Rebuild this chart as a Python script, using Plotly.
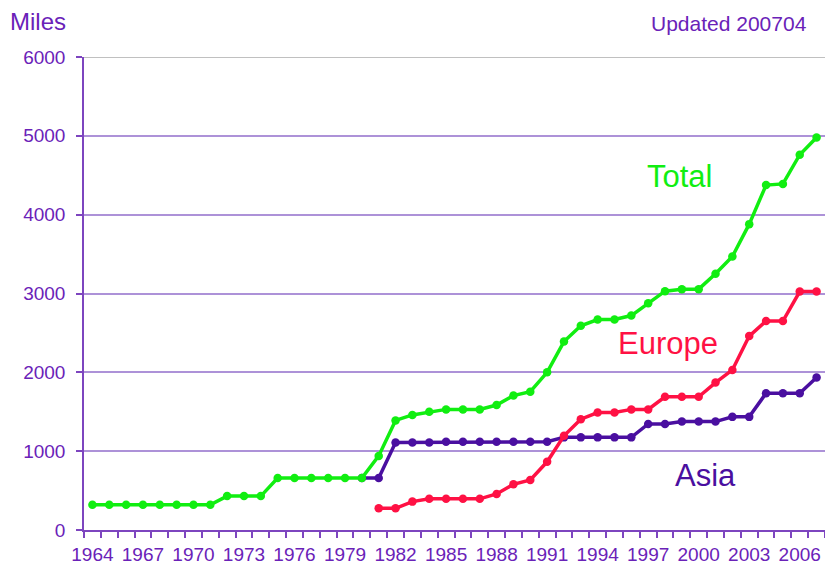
import plotly.graph_objects as go

years = list(range(1964, 2008))
total = [320, 320, 320, 320, 320, 320, 320, 320,
         430, 430, 430,
         660, 660, 660, 660, 660, 660,
         940, 1390, 1460, 1500, 1530, 1530, 1530, 1585, 1705, 1755,
         2000, 2390, 2590, 2670, 2670, 2720, 2875, 3030, 3055, 3055,
         3250, 3470, 3880, 4375, 4390, 4760, 4980]
asia_years = list(range(1980, 2008))
asia = [660, 660, 1110, 1110, 1110,
        1120, 1120, 1120, 1120, 1120, 1120, 1120,
        1175, 1175, 1175, 1175, 1175,
        1345, 1345, 1375, 1375, 1375, 1435, 1435, 1735, 1735, 1735, 1935]
europe_years = list(range(1981, 2008))
europe = [275, 275, 360, 395, 395, 395, 395, 457, 580, 635, 865, 1195,
          1405, 1490, 1490, 1530, 1530, 1690, 1690, 1690, 1870, 2030,
          2460, 2650, 2650, 3025, 3025]
tick_years = list(range(1964, 2007, 3))
y_ticks = [0, 1000, 2000, 3000, 4000, 5000, 6000]

GREEN = "#11ee11"
RED = "#ff1144"
PURPLE = "#4a0fa0"
TXT = "#6a22b8"
AXIS = "#7d45bf"
GRID = "#ad92d8"
FONT = "Liberation Sans, Arial, sans-serif"

fig = go.Figure()
for xs, ys, col in [(asia_years, asia, PURPLE), (europe_years, europe, RED), (years, total, GREEN)]:
    fig.add_trace(go.Scatter(x=xs, y=ys, mode="lines+markers",
                             line=dict(color=col, width=3.5),
                             marker=dict(color=col, size=8.5),
                             showlegend=False, hoverinfo="skip", cliponaxis=False))

fig.update_layout(
    width=825, height=566,
    margin=dict(l=84, r=0, t=57, b=36, autoexpand=False),
    plot_bgcolor="white", paper_bgcolor="white",
    font=dict(family=FONT, color=TXT, size=19),
    xaxis=dict(range=[1963.5, 2007.5], tickvals=tick_years,
               ticktext=[str(y) for y in tick_years],
               ticks="", showgrid=False, zeroline=False, automargin=False,
               showline=True, linecolor=AXIS, linewidth=1.5,
               tickfont=dict(size=19, color=TXT), ticklabelstandoff=6,
               minor=dict(tick0=1963.5, dtick=1, ticks="outside", ticklen=6,
                          tickcolor=AXIS, tickwidth=1.5, showgrid=False)),
    yaxis=dict(range=[0, 6000], tickvals=y_ticks, automargin=False,
               ticks="outside", ticklen=6, tickcolor=AXIS, tickwidth=1.5,
               showgrid=True, gridcolor=GRID, gridwidth=1.5, zeroline=False,
               showline=True, linecolor=AXIS, linewidth=1.5,
               tickfont=dict(size=19, color=TXT), ticklabelstandoff=7),
)
fig.add_shape(type="line", xref="paper", yref="y", x0=0, x1=1, y0=6000, y1=6000,
              line=dict(color="#c0c0c0", width=2), layer="below")

fig.add_annotation(text="Miles", xref="paper", yref="paper", x=-84/741, y=1 + (57 - 21) / 473,
                   xanchor="left", yanchor="middle", showarrow=False, xshift=8,
                   font=dict(size=24, color=TXT))
fig.add_annotation(text="Updated 200704", xref="paper", yref="paper", x=(809 - 84) / 741,
                   y=1 + (57 - 23) / 473, xanchor="right", yanchor="middle",
                   showarrow=False, font=dict(size=21, color=TXT))
for txt, xc, yc, col in [("Total", 679, 176, GREEN), ("Europe", 668, 343, RED), ("Asia", 705, 475, PURPLE)]:
    fig.add_annotation(text=txt, xref="paper", yref="paper", x=(xc - 84) / 741,
                       y=(530 - yc) / 473, xanchor="center", yanchor="middle",
                       showarrow=False, font=dict(size=31, color=col))

fig.write_html("out.html", config={"displayModeBar": False},
               post_script="document.body.style.margin='0';document.body.style.padding='0';")
